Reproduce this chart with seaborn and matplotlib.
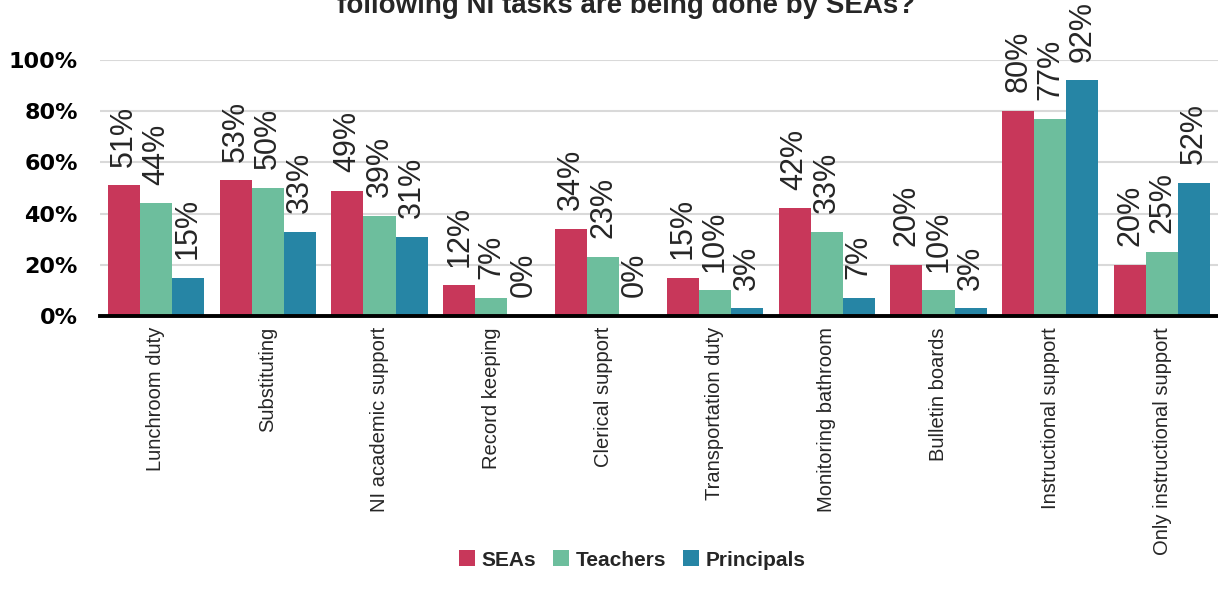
import matplotlib
matplotlib.use("Agg")
import matplotlib.pyplot as plt
import seaborn as sns
import pandas as pd
import numpy as np
from matplotlib.patches import Patch

categories = ["Lunchroom duty", "Substituting", "NI academic support", "Record keeping",
              "Clerical support", "Transportation duty", "Monitoring bathroom",
              "Bulletin boards", "Instructional support", "Only instructional support"]
seas = [51, 53, 49, 12, 34, 15, 42, 20, 80, 20]
teachers = [44, 50, 39, 7, 23, 10, 33, 10, 77, 25]
principals = [15, 33, 31, 0, 0, 3, 7, 3, 92, 52]
series_names = ["SEAs", "Teachers", "Principals"]
colors = ["#C8375A", "#6DBE9D", "#2685A5"]
yticks = [0, 20, 40, 60, 80, 100]
title = "following NI tasks are being done by SEAs?"

sns.set_theme(style="white")
plt.rcParams['font.family'] = ['Liberation Sans', 'DejaVu Sans']

rows = []
for name, vals in zip(series_names, [seas, teachers, principals]):
    for c, v in zip(categories, vals):
        rows.append({"task": c, "group": name, "value": v})
df = pd.DataFrame(rows)

fig = plt.figure(figsize=(12.18, 5.91), dpi=100)
ax = fig.add_axes([100/1218, 1 - 316/591, 1 - 100/1218, (316 - 60)/591])

sns.barplot(data=df, x="task", y="value", hue="group", order=categories,
            hue_order=series_names, palette=colors, width=0.86, saturation=1,
            errorbar=None, ax=ax, legend=False, linewidth=0, edgecolor="none")

ax.set_ylim(0, 100)
ax.set_xlim(-0.5, len(categories) - 0.5)
ax.set_yticks(yticks)
ax.set_yticklabels([f"{t}%" for t in yticks], fontsize=16, fontweight="bold",
                   family="DejaVu Sans")
ax.yaxis.grid(True, color="#D9D9D9", linewidth=1.5)
ax.set_axisbelow(True)
for s in ["top", "right", "left"]:
    ax.spines[s].set_visible(False)
ax.spines["bottom"].set_linewidth(2.8)
ax.spines["bottom"].set_color("black")
ax.tick_params(axis="y", length=0, pad=16, colors="black")
ax.set_xticks(range(len(categories)))
ax.set_xticklabels(categories, rotation=90, fontsize=14.5, va="top", ha="center")
ax.tick_params(axis="x", which="major", length=0, pad=8)
ax.set_xticks(np.arange(-0.5, len(categories), 1.0), minor=True)
ax.tick_params(axis="x", which="minor", length=5, width=2.8, color="black", direction="out")
ax.set_xlabel("")
ax.set_ylabel("")

for cont in ax.containers:
    for bar in cont:
        h = bar.get_height()
        ax.annotate(f"{h:.0f}%", (bar.get_x() + bar.get_width() / 2, h),
                    xytext=(0, 13.5), textcoords="offset points", rotation=90,
                    ha="center", va="bottom", fontsize=22, clip_on=False)

fig.text(0.514, 1 - 13/591, title, ha="center", va="baseline",
         fontsize=20, fontweight="bold")

handles = [Patch(facecolor=c, edgecolor="none") for c in colors]
fig.legend(handles, series_names, loc="center", bbox_to_anchor=(0.519, 1 - 560/591),
           ncol=3, frameon=False, prop={"weight": "bold", "size": 15},
           handlelength=0.8, handleheight=0.8, handletextpad=0.3, columnspacing=0.8)

fig.savefig("out.png", dpi=100)
